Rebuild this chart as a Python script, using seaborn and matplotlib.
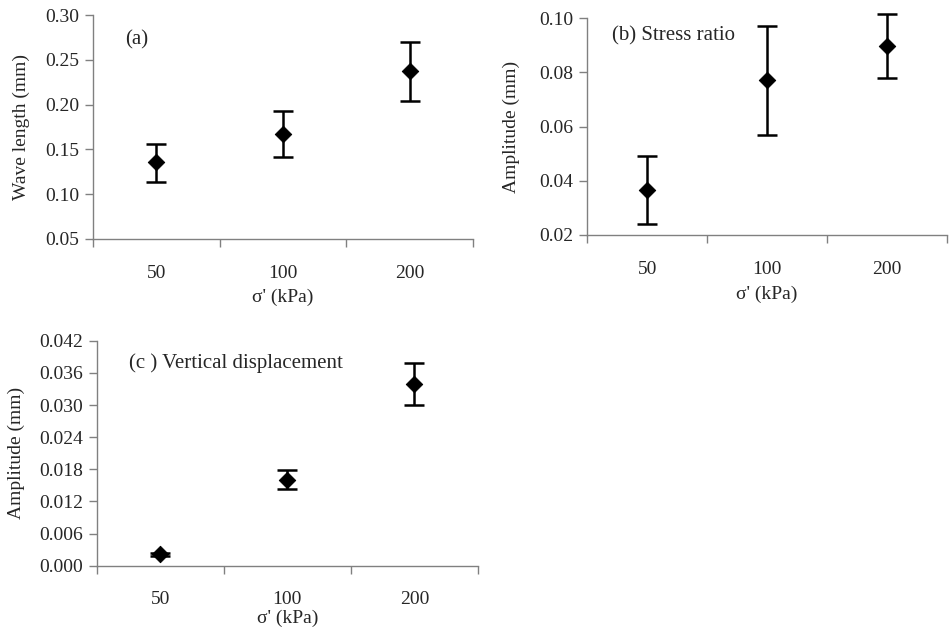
import matplotlib
matplotlib.use("Agg")
import matplotlib.pyplot as plt
import seaborn as sns
import pandas as pd
import numpy as np

sns.set_theme(style="white")
plt.rcParams['font.family'] = ['Liberation Serif', 'DejaVu Serif']

categories = ["50", "100", "200"]

# (a) Wave length
wave_mean = [0.136, 0.167, 0.237]
wave_low = [0.114, 0.141, 0.204]
wave_high = [0.156, 0.193, 0.270]

# (b) Stress ratio amplitude
stress_mean = [0.0366, 0.0772, 0.0898]
stress_low = [0.0242, 0.0570, 0.0780]
stress_high = [0.0493, 0.0972, 0.1015]

# (c) Vertical displacement amplitude
vert_mean = [0.0021, 0.0160, 0.0340]
vert_low = [0.0018, 0.0144, 0.0300]
vert_high = [0.0024, 0.0178, 0.0378]

fig = plt.figure(figsize=(9.5, 6.3), dpi=100)
GRAY = "#808080"
FS = 14

def panel(rect, mean, low, high, ylim, yticks, yfmt, ylabel, label, label_xy,
          tick_pad, xlabel_pad, ylabel_pad):
    ax = fig.add_axes(rect)
    df = pd.DataFrame({"sigma": categories, "val": mean, "lo": low, "hi": high})
    x = np.arange(len(categories))
    ax.errorbar(x, df["val"], yerr=[df["val"] - df["lo"], df["hi"] - df["val"]],
                fmt="none", ecolor="black", elinewidth=1.8, capsize=7, capthick=1.8,
                clip_on=False, zorder=2)
    sns.scatterplot(data=df, x="sigma", y="val", marker="D", s=70, color="black",
                    edgecolor="black", ax=ax, zorder=3, clip_on=False)
    ax.set_xlim(-0.5, 2.5)
    ax.set_ylim(*ylim)
    ax.set_yticks(yticks)
    ax.set_yticklabels([yfmt.format(v) for v in yticks], fontsize=FS)
    ax.set_xticks(x)
    ax.set_xticklabels(categories, fontsize=FS)
    ax.set_xticks([-0.5, 0.5, 1.5, 2.5], minor=True)
    ax.tick_params(axis="x", which="major", length=0, pad=tick_pad)
    ax.tick_params(axis="x", which="minor", length=6, color=GRAY, width=1, direction="out", bottom=True)
    ax.tick_params(axis="y", length=6, color=GRAY, width=1, direction="out", left=True, pad=4)
    for s in ["top", "right"]:
        ax.spines[s].set_visible(False)
    for s in ["left", "bottom"]:
        ax.spines[s].set_color(GRAY)
        ax.spines[s].set_linewidth(1.0)
    ax.set_xlabel("σ' (kPa)", fontsize=FS, labelpad=xlabel_pad)
    ax.set_ylabel(ylabel, fontsize=FS, labelpad=ylabel_pad)
    ax.text(label_xy[0], label_xy[1], label, transform=ax.transAxes, fontsize=15,
            ha="left", va="center")
    ax.set_facecolor("white")
    return ax

panel([0.098, 0.621, 0.400, 0.355], wave_mean, wave_low, wave_high,
      (0.05, 0.30), [0.05, 0.10, 0.15, 0.20, 0.25, 0.30], "{:.2f}",
      "Wave length (mm)", "(a)", (0.085, 0.89), 19, 5, 11)

panel([0.618, 0.627, 0.379, 0.344], stress_mean, stress_low, stress_high,
      (0.02, 0.10), [0.02, 0.04, 0.06, 0.08, 0.10], "{:.2f}",
      "Amplitude (mm)", "(b) Stress ratio", (0.07, 0.92), 19, 5, 14)

panel([0.102, 0.102, 0.401, 0.357], vert_mean, vert_low, vert_high,
      (0.0, 0.042), [0.0, 0.006, 0.012, 0.018, 0.024, 0.030, 0.036, 0.042], "{:.3f}",
      "Amplitude (mm)", "(c ) Vertical displacement", (0.085, 0.90), 18, 1.5, 10)

fig.savefig("out.png", dpi=100, facecolor="white")
